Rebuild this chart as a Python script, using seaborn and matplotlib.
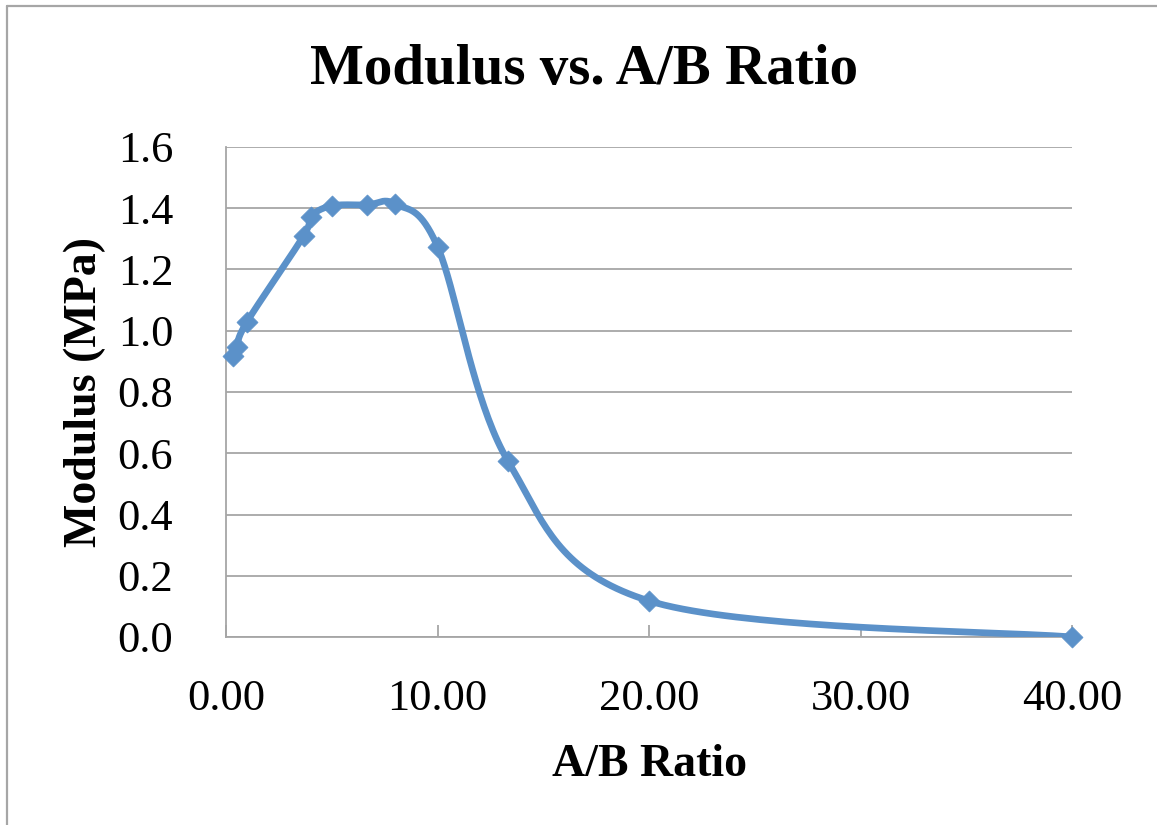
import numpy as np
import matplotlib
matplotlib.use("Agg")
import matplotlib.pyplot as plt
from matplotlib.lines import Line2D
import seaborn as sns

# Data
ab_ratio = [0.33, 0.5, 1.0, 3.67, 4.0, 5.0, 6.67, 8.0, 10.0, 13.33, 20.0, 40.0]
modulus = [0.919, 0.948, 1.030, 1.310, 1.373, 1.408, 1.411, 1.414, 1.275, 0.575, 0.118, 0.0]
x_ticks = [0, 10, 20, 30, 40]
x_tick_labels = ["0.00", "10.00", "20.00", "30.00", "40.00"]
y_ticks = [0.0, 0.2, 0.4, 0.6, 0.8, 1.0, 1.2, 1.4, 1.6]
y_tick_labels = ["0.0", "0.2", "0.4", "0.6", "0.8", "1.0", "1.2", "1.4", "1.6"]

sns.set_theme(style="white")
plt.rcParams["font.family"] = ["Liberation Serif", "DejaVu Serif"]
plt.rcParams["text.color"] = "black"
plt.rcParams["axes.labelcolor"] = "black"
plt.rcParams["xtick.labelcolor"] = "black"
plt.rcParams["ytick.labelcolor"] = "black"

COLOR = "#5B91C9"
GRID = "#A6A6A6"


def smooth_curve(xs, ys, n=40):
    """Excel-like smoothed line (Catmull-Rom Bezier) through the data points."""
    p = np.column_stack([xs, ys]).astype(float)
    pts = np.vstack([p[0], p, p[-1]])
    out = []
    t = np.linspace(0, 1, n)[:, None]
    for i in range(1, len(pts) - 2):
        p0, p1, p2, p3 = pts[i - 1], pts[i], pts[i + 1], pts[i + 2]
        c1 = p1 + (p2 - p0) / 6.0
        c2 = p2 - (p3 - p1) / 6.0
        seg = ((1 - t) ** 3) * p1 + 3 * ((1 - t) ** 2) * t * c1 + 3 * (1 - t) * t ** 2 * c2 + t ** 3 * p2
        out.append(seg if i == 1 else seg[1:])
    out = np.vstack(out)
    return out[:, 0], out[:, 1]


fig = plt.figure(figsize=(11.57, 8.25), dpi=100)
ax = fig.add_axes([226 / 1157, 1 - 637 / 825, (1072 - 226) / 1157, (637 - 147) / 825])

sx, sy = smooth_curve(ab_ratio, modulus)
sns.lineplot(x=sx, y=sy, sort=False, ax=ax, color=COLOR, linewidth=4.8, zorder=3)
sns.scatterplot(x=ab_ratio, y=modulus, ax=ax, marker="D", s=115, color=COLOR,
                edgecolor=COLOR, linewidth=0.5, zorder=4, clip_on=False)

ax.set_xlim(0, 40)
ax.set_ylim(0, 1.6)
ax.set_xticks(x_ticks)
ax.set_xticklabels(x_tick_labels)
ax.set_yticks(y_ticks)
ax.set_yticklabels(y_tick_labels)

ax.yaxis.grid(True, color=GRID, linewidth=1.3)
ax.xaxis.grid(False)
ax.set_axisbelow(True)

for side in ["top", "right"]:
    ax.spines[side].set_visible(False)
for side in ["left", "bottom"]:
    ax.spines[side].set_color(GRID)
    ax.spines[side].set_linewidth(1.3)

ax.tick_params(axis="x", direction="in", length=9, width=1.3, color=GRID,
               labelsize=32, pad=30, bottom=True, labelcolor="black")
ax.tick_params(axis="y", length=0, labelsize=32, pad=38, left=False, labelcolor="black")

ax.set_xlabel("A/B Ratio", fontsize=33, fontweight="bold", labelpad=18, color="black")
ax.set_ylabel("Modulus (MPa)", fontsize=33, fontweight="bold", labelpad=8, color="black")
fig.text(0.505, 1 - 70 / 825, "Modulus vs. A/B Ratio", ha="center", va="center",
         fontsize=41, fontweight="bold", color="black")

# chart area border (left and top edges visible in the reference)
fig.add_artist(Line2D([7 / 1157, 7 / 1157], [0, 1 - 6 / 825], color=GRID, linewidth=1.6))
fig.add_artist(Line2D([7 / 1157, 1], [1 - 6 / 825, 1 - 6 / 825], color=GRID, linewidth=1.6))

fig.savefig("out.png", dpi=100)
